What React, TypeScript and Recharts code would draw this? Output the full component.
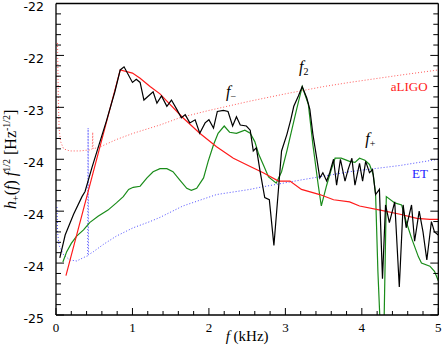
import { LineChart, Line, XAxis, YAxis, ReferenceDot } from 'recharts'

// axis ticks
const xTicks = [0, 0.2, 0.4, 0.6, 0.8, 1, 1.2, 1.4, 1.6, 1.8, 2, 2.2, 2.4, 2.6, 2.8, 3, 3.2, 3.4, 3.6, 3.8, 4, 4.2, 4.4, 4.6, 4.8, 5]
const xMajor = [0, 1, 2, 3, 4, 5]
const xTickLabels = ['0', '1', '2', '3', '4', '5']
const yTicks = [
  -25, -24.9, -24.8, -24.7, -24.6, -24.5, -24.4, -24.3, -24.2, -24.1,
  -24, -23.9, -23.8, -23.7, -23.6, -23.5, -23.4, -23.3, -23.2, -23.1,
  -23, -22.9, -22.8, -22.7, -22.6, -22.5, -22.4, -22.3, -22.2, -22.1, -22,
]
const yMajor = [-25, -24.5, -24, -23.5, -23, -22.5, -22]
const yTickLabels = ['-25', '-24', '-24', '-24', '-23', '-22', '-22']

// black: full spectrum
const blackF = [
  0.05, 0.12, 0.23, 0.34, 0.38, 0.47, 0.55, 0.66, 0.77, 0.84, 0.89, 1.0, 1.05, 1.1, 1.15, 1.27, 1.32,
  1.38, 1.45, 1.51, 1.58, 1.64, 1.69, 1.75, 1.82, 1.88, 1.95, 2.0, 2.06, 2.11, 2.19, 2.25, 2.31, 2.36,
  2.41, 2.49, 2.54, 2.58, 2.62, 2.67, 2.73, 2.79, 2.85, 2.95, 3.02, 3.07, 3.11, 3.17, 3.22, 3.28, 3.32,
  3.36, 3.41, 3.45, 3.49, 3.54, 3.58, 3.63, 3.67, 3.72, 3.78, 3.82, 3.87, 3.91, 3.97, 4.01, 4.05, 4.1,
  4.14, 4.18, 4.23, 4.27, 4.31, 4.36, 4.43, 4.49, 4.54, 4.58, 4.65, 4.69, 4.75, 4.8, 4.85, 4.91, 4.95, 5.0,
]
const blackV = [
  -24.45, -24.23, -24.03, -23.86, -23.81, -23.58, -23.39, -23.13, -22.85, -22.64, -22.61, -22.76, -22.73, -22.76, -22.93, -22.85, -22.96,
  -22.89, -22.99, -22.93, -23.02, -23.1, -23.07, -23.15, -23.12, -23.25, -23.15, -23.12, -23.2, -23.04, -23.03, -23.04, -23.18, -23.09,
  -23.17, -23.18, -23.22, -23.42, -23.39, -23.62, -23.87, -23.89, -24.33, -23.42, -23.26, -23.12, -22.99, -22.89, -22.8, -22.91, -23.02,
  -23.26, -23.49, -23.68, -23.63, -23.71, -23.63, -23.5, -23.75, -23.5, -23.71, -23.6, -23.49, -23.75, -23.54, -23.71, -23.52, -23.63,
  -23.6, -23.84, -23.79, -24.65, -23.94, -24.11, -23.91, -24.73, -23.94, -24.16, -23.94, -24.29, -24.0, -24.2, -24.47, -24.1, -24.2, -24.23,
]

// green
const greenF = [
  0.09, 0.14, 0.2, 0.27, 0.36, 0.44, 0.55, 0.68, 0.79, 0.88, 0.95, 1.01, 1.1, 1.19, 1.27, 1.36, 1.45, 1.53,
  1.62, 1.71, 1.77, 1.84, 1.93, 1.99, 2.06, 2.12, 2.2, 2.27, 2.36, 2.47, 2.54, 2.6, 2.65, 2.71, 2.78, 2.88,
  2.95, 3.02, 3.08, 3.15, 3.22, 3.3, 3.36, 3.43, 3.47, 3.54, 3.6, 3.65, 3.73, 3.84, 3.91, 3.97, 4.04, 4.1,
  4.15, 4.18, 4.21, 4.24, 4.29, 4.32, 4.43, 4.52, 4.58, 4.65, 4.74, 4.78, 4.89, 4.95, 5.0,
]
const greenV = [
  -24.49, -24.39, -24.31, -24.24, -24.18, -24.11, -24.05, -23.99, -23.92, -23.86, -23.79, -23.77, -23.76, -23.68, -23.62, -23.59, -23.59, -23.62,
  -23.7, -23.78, -23.8, -23.78, -23.68, -23.52, -23.36, -23.25, -23.18, -23.24, -23.25, -23.22, -23.25, -23.33, -23.45, -23.55, -23.67, -23.73,
  -23.62, -23.42, -23.23, -23.01, -22.8, -22.97, -23.36, -23.75, -23.95, -23.75, -23.6, -23.49, -23.49, -23.52, -23.53, -23.49, -23.51, -23.55,
  -23.65, -23.84, -24.58, -25.1, -25.1, -23.86, -23.92, -23.94, -24.1, -24.26, -24.44, -24.5, -24.53, -24.58, -24.67,
]

// red solid
const redF = [0.13, 0.84, 1.0, 1.1, 1.23, 1.36, 1.45, 1.66, 1.88, 2.1, 2.32, 2.54, 2.71, 2.91, 3.06, 3.21, 3.45, 3.63, 3.84, 3.97, 4.24, 4.5, 4.72, 4.89, 5.0]
const redV = [-24.62, -22.64, -22.67, -22.72, -22.8, -22.87, -22.94, -23.1, -23.25, -23.38, -23.49, -23.57, -23.63, -23.71, -23.71, -23.79, -23.84, -23.89, -23.91, -23.95, -23.99, -24.03, -24.07, -24.08, -24.08]

// aLIGO
const ligoF = [0.02, 0.03, 0.04, 0.06, 0.1, 0.18, 0.31, 0.44, 0.475, 0.48, 0.485, 0.58, 0.79, 1.01, 1.36, 1.62, 2.0, 2.54, 3.0, 3.5, 3.84, 4.5, 5.0]
const ligoV = [-22.38, -22.9, -23.2, -23.33, -23.4, -23.42, -23.42, -23.41, -23.4, -23.24, -23.4, -23.38, -23.31, -23.25, -23.17, -23.1, -23.03, -22.94, -22.87, -22.8, -22.76, -22.69, -22.64]

// ET
const etF = [0.013, 0.02, 0.04, 0.1, 0.18, 0.27, 0.38, 0.415, 0.42, 0.425, 0.49, 0.62, 0.79, 1.01, 1.23, 1.36, 1.66, 2.1, 2.54, 2.67, 3.2, 3.84, 4.5, 5.0]
const etV = [-23.96, -24.2, -24.33, -24.42, -24.47, -24.48, -24.44, -24.43, -23.2, -24.42, -24.39, -24.32, -24.24, -24.16, -24.1, -24.06, -23.95, -23.84, -23.79, -23.77, -23.7, -23.62, -23.56, -23.5]

const toPoints = (fs: number[], vs: number[]) => fs.map((f, i) => ({ f, v: vs[i] }))

const annotations = [
  { f: 2.29, v: -22.9, main: 'f', sub: '\u2212', color: '#000', italic: true, size: 16 },
  { f: 3.24, v: -22.66, main: 'f', sub: '2', color: '#000', italic: true, size: 16 },
  { f: 4.11, v: -23.35, main: 'f', sub: '+', color: '#000', italic: true, size: 16 },
  { f: 4.62, v: -22.84, main: 'aLIGO', sub: '', color: '#ff2020', italic: false, size: 13 },
  { f: 4.76, v: -23.68, main: 'ET', sub: '', color: '#1a1aff', italic: false, size: 13 },
]

const serif = 'Liberation Serif, serif'
const isMajor = (list: number[], v: number) => list.findIndex((m) => Math.abs(m - v) < 1e-6)

const BottomTick = (p: any) => {
  const k = isMajor(xMajor, p.payload.value)
  return (
    <g>
      <line x1={p.x} x2={p.x} y1={p.y} y2={p.y - (k >= 0 ? 7 : 4)} stroke="#000" />
      {k >= 0 && (
        <text x={p.x} y={p.y + 16.5} textAnchor="middle" fontFamily={serif} fontSize={13} fill="#000">
          {xTickLabels[k]}
        </text>
      )}
    </g>
  )
}

const TopTick = (p: any) => {
  const k = isMajor(xMajor, p.payload.value)
  return <line x1={p.x} x2={p.x} y1={p.y} y2={p.y + (k >= 0 ? 7 : 4)} stroke="#000" />
}

const LeftTick = (p: any) => {
  const k = isMajor(yMajor, p.payload.value)
  return (
    <g>
      <line x1={p.x} x2={p.x + (k >= 0 ? 8 : 5)} y1={p.y} y2={p.y} stroke="#000" />
      {k >= 0 && (
        <text x={p.x - 12} y={p.y + 7.5} textAnchor="end" fontFamily="DejaVu Sans, sans-serif" fontSize={12.5} fill="#000">
          {yTickLabels[k]}
        </text>
      )}
    </g>
  )
}

const RightTick = (p: any) => {
  const k = isMajor(yMajor, p.payload.value)
  return <line x1={p.x} x2={p.x - (k >= 0 ? 8 : 5)} y1={p.y} y2={p.y} stroke="#000" />
}

const XTitle = (p: any) => {
  const vb = p.viewBox
  return (
    <text x={vb.x + vb.width / 2} y={vb.y + 26} textAnchor="middle" fontFamily={serif} fontSize={15} fill="#000">
      <tspan fontStyle="italic">f</tspan> (kHz)
    </text>
  )
}

const YTitle = (p: any) => {
  const vb = p.viewBox
  const cx = 16
  const cy = vb.y + vb.height / 2
  return (
    <text x={cx} y={cy} transform={`rotate(-90, ${cx}, ${cy})`} textAnchor="middle" fontFamily={serif} fontSize={16} fill="#000">
      <tspan fontStyle="italic">h</tspan>
      <tspan fontSize={10} dy={3}>+</tspan>
      <tspan dy={-3}>(</tspan>
      <tspan fontStyle="italic">f</tspan>
      <tspan>) </tspan>
      <tspan fontStyle="italic">f</tspan>
      <tspan fontSize={10} dy={-6}>1/2</tspan>
      <tspan dy={6}> [Hz</tspan>
      <tspan fontSize={10} dy={-6}>-1/2</tspan>
      <tspan dy={6}>]</tspan>
    </text>
  )
}

export default function App() {
  return (
    <div style={{ position: 'absolute', left: 0, top: 0, width: 442, height: 357, background: '#fff' }}>
      <LineChart width={442} height={357} margin={{ top: 0, right: 0, bottom: 0, left: 0 }}>
        <XAxis
          dataKey="f"
          type="number"
          domain={[0, 5]}
          ticks={xTicks}
          interval={0}
          height={42}
          tickSize={0}
          tickMargin={0}
          tickLine={false}
          allowDataOverflow
          axisLine={{ stroke: '#000', strokeWidth: 1.3 }}
          tick={(p: any) => <BottomTick {...p} />}
          label={{ content: (p: any) => <XTitle {...p} /> }}
        />
        <XAxis
          xAxisId="top"
          orientation="top"
          type="number"
          domain={[0, 5]}
          ticks={xTicks}
          interval={0}
          height={3.5}
          tickSize={0}
          tickMargin={0}
          tickLine={false}
          allowDataOverflow
          axisLine={{ stroke: '#000', strokeWidth: 1.3 }}
          tick={(p: any) => <TopTick {...p} />}
        />
        <YAxis
          type="number"
          domain={[-25, -22]}
          ticks={yTicks}
          interval={0}
          width={56}
          tickSize={0}
          tickMargin={0}
          tickLine={false}
          allowDataOverflow
          axisLine={{ stroke: '#000', strokeWidth: 1.3 }}
          tick={(p: any) => <LeftTick {...p} />}
          label={{ content: (p: any) => <YTitle {...p} /> }}
        />
        <YAxis
          yAxisId="right"
          orientation="right"
          type="number"
          domain={[-25, -22]}
          ticks={yTicks}
          interval={0}
          width={3.7}
          tickSize={0}
          tickMargin={0}
          tickLine={false}
          allowDataOverflow
          axisLine={{ stroke: '#000', strokeWidth: 1.3 }}
          tick={(p: any) => <RightTick {...p} />}
        />

        <Line data={toPoints(ligoF, ligoV)} dataKey="v" type="linear" stroke="#ff3030" strokeOpacity={0.8} strokeWidth={1} strokeDasharray="1 2" dot={false} isAnimationActive={false} />
        <Line data={toPoints(etF, etV)} dataKey="v" type="linear" stroke="#2020ff" strokeOpacity={0.8} strokeWidth={1} strokeDasharray="1 2" dot={false} isAnimationActive={false} />
        <Line data={toPoints(greenF, greenV)} dataKey="v" type="linear" stroke="#1a8c1a" strokeWidth={1.2} dot={false} isAnimationActive={false} />
        <Line data={toPoints(redF, redV)} dataKey="v" type="linear" stroke="#ff1a1a" strokeWidth={1.2} dot={false} isAnimationActive={false} />
        <Line data={toPoints(blackF, blackV)} dataKey="v" type="linear" stroke="#000" strokeWidth={1.2} dot={false} isAnimationActive={false} />

        {annotations.map((a) => (
          <ReferenceDot
            key={a.main + a.sub}
            x={a.f}
            y={a.v}
            r={0}
            shape={(p: any) => (
              <text x={p.cx} y={p.cy} textAnchor="middle" fontFamily={serif} fontSize={a.size} fill={a.color}>
                <tspan fontStyle={a.italic ? 'italic' : 'normal'}>{a.main}</tspan>
                {a.sub && <tspan fontSize={10} dy={3}>{a.sub}</tspan>}
              </text>
            )}
          />
        ))}
      </LineChart>
    </div>
  )
}
